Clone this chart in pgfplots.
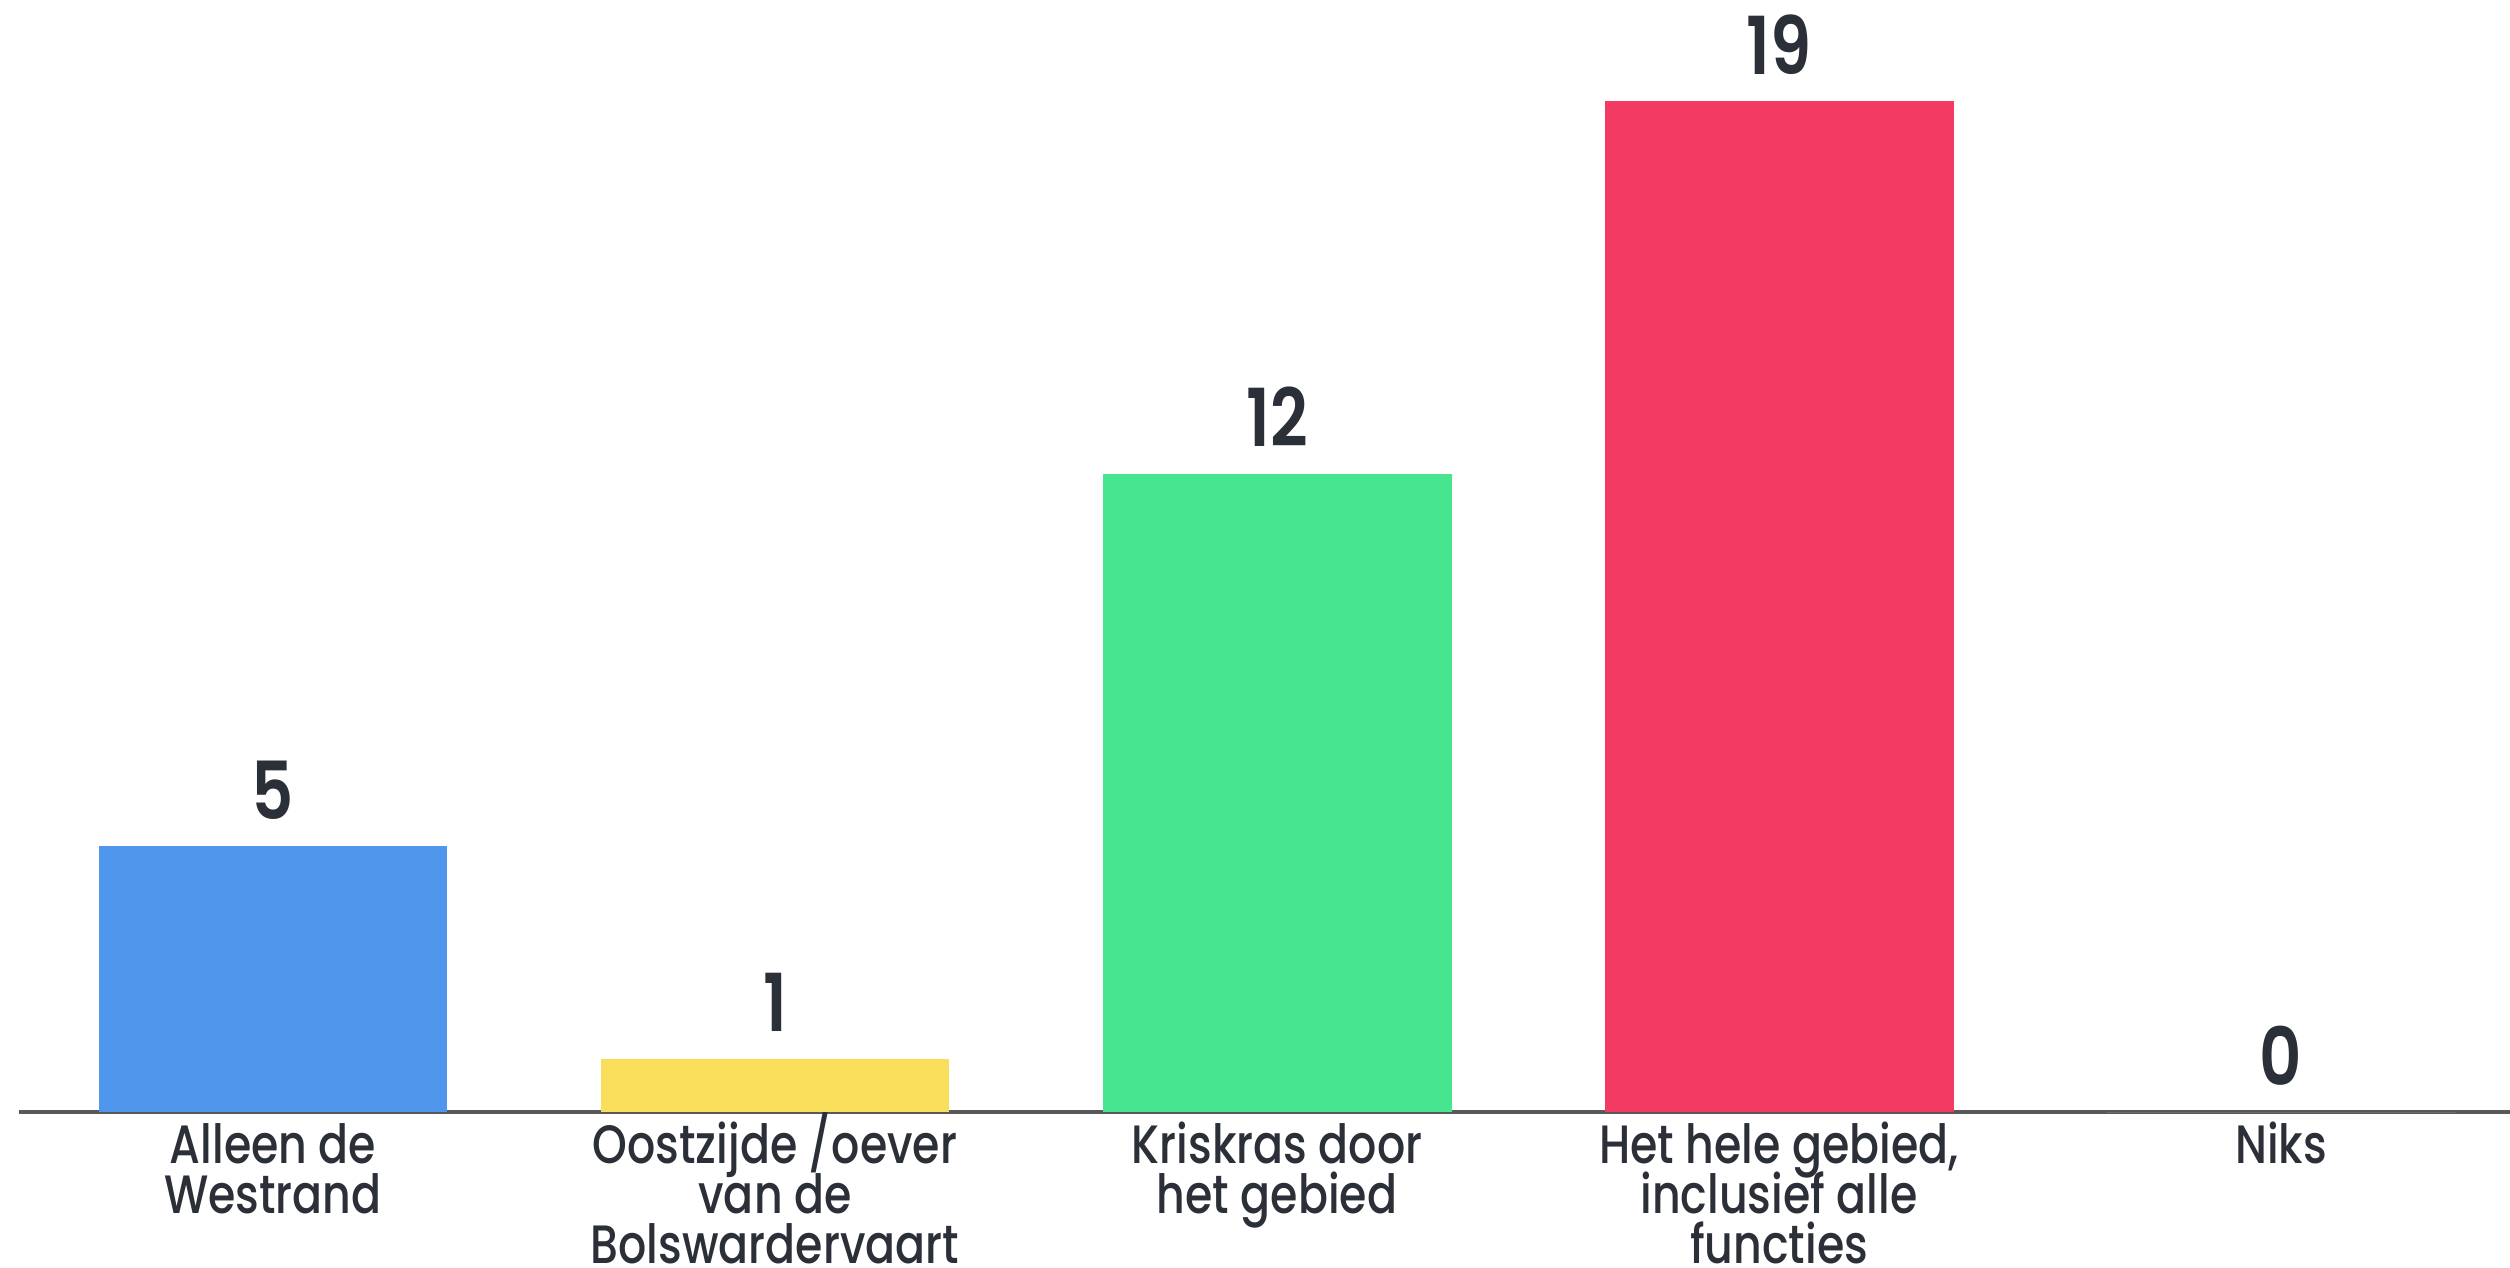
\documentclass[border=0pt]{standalone}
\usepackage{pgfplots}
\pgfplotsset{compat=1.18}
\usepackage{fontspec}
\setmainfont{Poppins}[UprightFont={* Medium}, BoldFont={* SemiBold}, FakeStretch=0.82]
\definecolor{cblue}{HTML}{4E97EC}
\definecolor{cyellow}{HTML}{F8DE5A}
\definecolor{cgreen}{HTML}{47E590}
\definecolor{cred}{HTML}{F23A62}
\definecolor{ctext}{HTML}{2B2F37}
% multi-line tick label whose baseline is that of its first line
\newcommand\lbl[1]{\vtop{\baselineskip=12.5pt\lineskiplimit=-20pt\halign{\hfil##\hfil\cr#1\crcr}}}
\begin{document}
\begin{tikzpicture}
\begin{axis}[
  at={(0,0)}, anchor=south west,
  scale only axis, width=622.75pt, height=278pt,
  xmin=-0.506, xmax=4.456, ymin=0, ymax=20.9,
  axis x line=bottom, axis y line=none,
  axis line style={draw=black!65, line width=0.8pt, -},
  ybar, bar width=0.695, bar shift=0pt,
  xtick={0,1,2,3,4}, major tick length=0pt,
  xticklabels={{\lbl{Alleen de\cr Westrand}},{\lbl{Oostzijde /oever\cr van de\cr Bolswardervaart}},{\lbl{Kriskras door\cr het gebied}},{\lbl{Het hele gebied,\cr inclusief alle\cr functies}},{\lbl{Niks}}},
  xticklabel style={text=ctext, font=\fontsize{13.5}{12.5}\selectfont, inner sep=0pt, anchor=base, yshift=-12.75pt},
  /pgf/number format/assume math mode=true,
  nodes near coords,
  every node near coord/.append style={text=ctext, font=\fontsize{20}{20}\selectfont\bfseries, inner sep=0pt, anchor=south, yshift=6.5pt},
  clip=false,
]
\addplot[fill=cblue, draw=none] coordinates {(0,5)};
\addplot[fill=cyellow, draw=none] coordinates {(1,1)};
\addplot[fill=cgreen, draw=none] coordinates {(2,12)};
\addplot[fill=cred, draw=none] coordinates {(3,19)};
\addplot[fill=white, draw=none] coordinates {(4,0)};
\end{axis}
\pgfresetboundingbox
\path[use as bounding box] (-4.75pt,-38.75pt) rectangle (622.75pt,278pt);
\end{tikzpicture}
\end{document}
